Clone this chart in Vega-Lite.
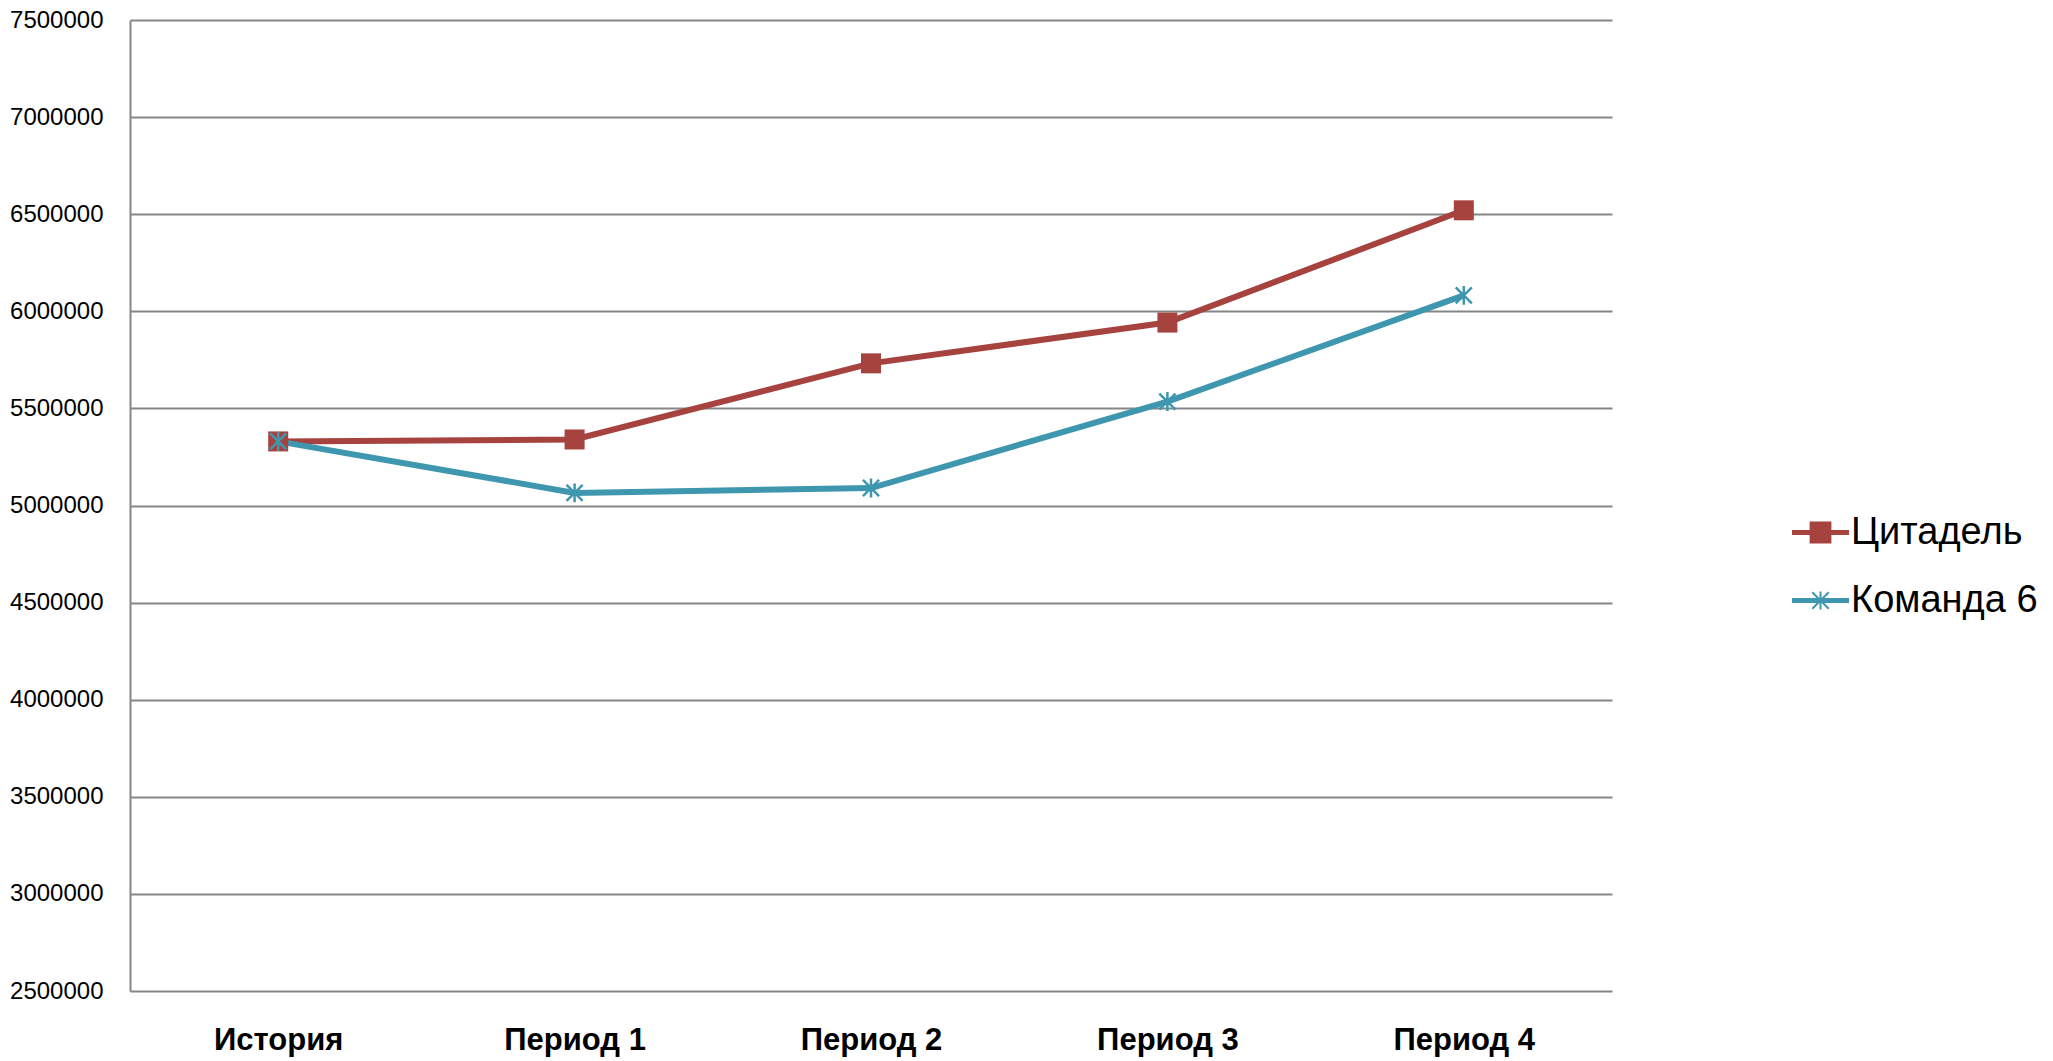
{
  "$schema": "https://vega.github.io/schema/vega-lite/v6.json",
  "autosize": {"type": "none"},
  "width": 1482,
  "height": 971,
  "padding": {"left": 130, "top": 20, "right": 441, "bottom": 70},
  "background": "white",
  "config": {"view": {"stroke": null}, "font": "Liberation Sans"},
  "data": {"values": [
    {"period": "История", "series": "Цитадель", "value": 5330000},
    {"period": "Период 1", "series": "Цитадель", "value": 5340000},
    {"period": "Период 2", "series": "Цитадель", "value": 5732000},
    {"period": "Период 3", "series": "Цитадель", "value": 5942000},
    {"period": "Период 4", "series": "Цитадель", "value": 6520000},
    {"period": "История", "series": "Команда 6", "value": 5330000},
    {"period": "Период 1", "series": "Команда 6", "value": 5065000},
    {"period": "Период 2", "series": "Команда 6", "value": 5090000},
    {"period": "Период 3", "series": "Команда 6", "value": 5535000},
    {"period": "Период 4", "series": "Команда 6", "value": 6082000}
  ]},
  "encoding": {
    "x": {"field": "period", "type": "nominal", "sort": null,
      "scale": {"type": "point", "padding": 0.5},
      "axis": {"title": null, "labelAngle": 0, "domain": false, "ticks": false, "grid": false,
        "labelFont": "Liberation Sans", "labelFontSize": 31, "labelFontWeight": "bold", "labelColor": "black", "labelPadding": 34}},
    "y": {"field": "value", "type": "quantitative",
      "scale": {"domain": [2500000, 7500000], "nice": false, "zero": false},
      "axis": {"title": null, "values": [2500000, 3000000, 3500000, 4000000, 4500000, 5000000, 5500000, 6000000, 6500000, 7000000, 7500000],
        "format": "d", "ticks": false, "domainColor": "#868686", "domainWidth": 2, "gridColor": "#868686", "gridWidth": 2,
        "labelFont": "Liberation Sans", "labelFontSize": 24, "labelColor": "black", "labelPadding": 27}}
  },
  "layer": [
    {
      "mark": {"type": "line", "strokeWidth": 6},
      "encoding": {
        "color": {"field": "series", "type": "nominal",
          "scale": {"domain": ["Цитадель", "Команда 6"], "range": ["#A6433F", "#3F97AF"]},
          "legend": {"orient": "none", "legendX": 1662, "legendY": 484, "title": null,
            "labelFont": "Liberation Sans", "labelFontSize": 38, "labelColor": "black", "labelLimit": 0,
            "symbolSize": 3025, "rowPadding": 20, "labelOffset": 2,
            "encode": {"symbols": {"update": {
              "shape": {"signal": "datum.value == 'Цитадель' ? 'M-1,-0.055L1,-0.055L1,0.055L-1,0.055Z M-0.36,-0.36L0.36,-0.36L0.36,0.36L-0.36,0.36Z' : 'M-1,-0.055L1,-0.055L1,0.055L-1,0.055Z M0,-0.33L0,0.33M-0.3,-0.3L0.3,0.3M-0.3,0.3L0.3,-0.3'"},
              "fill": {"signal": "datum.value == 'Цитадель' ? '#A6433F' : '#3F97AF'"},
              "stroke": {"signal": "datum.value == 'Цитадель' ? '#A6433F' : '#3F97AF'"},
              "strokeWidth": {"value": 2},
              "opacity": {"value": 1},
              "fillOpacity": {"value": 1}
            }}}}
        }
      }
    },
    {
      "transform": [{"filter": "datum.series == 'Цитадель'"}],
      "mark": {"type": "point", "shape": "square", "filled": true, "size": 400, "color": "#A6433F", "opacity": 1}
    },
    {
      "transform": [{"filter": "datum.series == 'Команда 6'"}],
      "mark": {"type": "point", "shape": "M0,-1L0,1M-0.85,-0.85L0.85,0.85M-0.85,0.85L0.85,-0.85", "filled": false, "size": 360, "strokeWidth": 2.5, "color": "#3F97AF", "opacity": 1}
    }
  ]
}
